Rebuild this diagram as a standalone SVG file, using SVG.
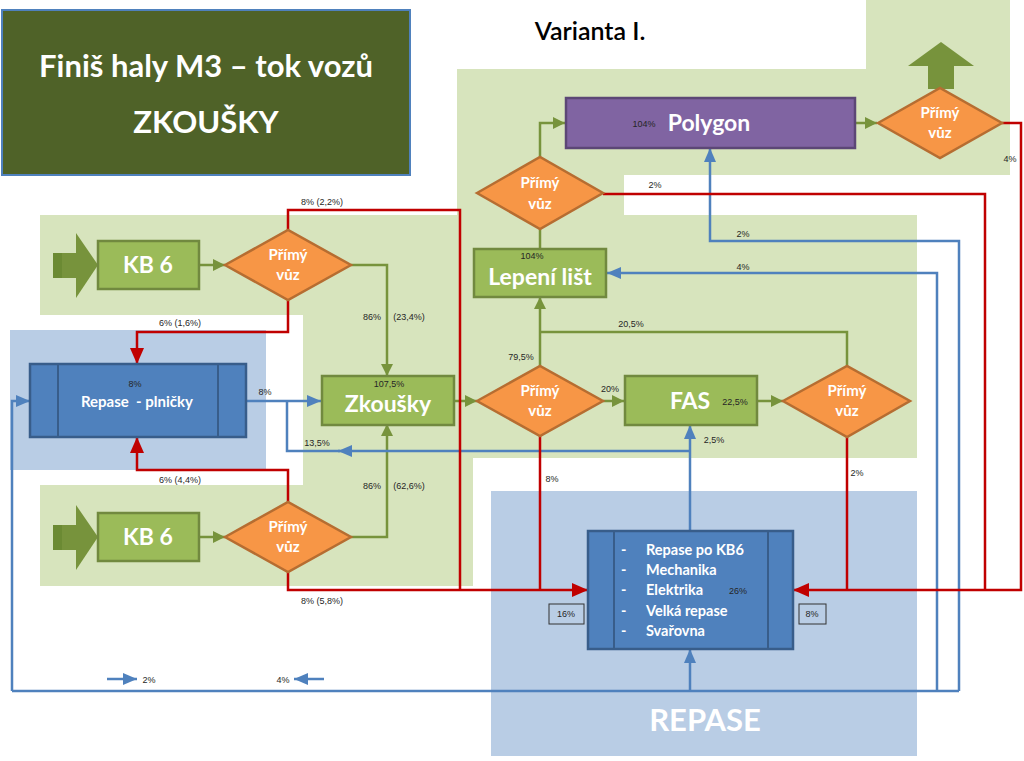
<svg xmlns="http://www.w3.org/2000/svg" width="1024" height="761" viewBox="0 0 1024 761">
<style>
.bg-g{fill:#d7e4bd}
.bg-b{fill:#b9cde5}
.gnode{fill:#9bbb59;stroke:#71893f;stroke-width:2.5}
.dia{fill:#f79646;stroke:#b66d31;stroke-width:2.5}
.bnode{fill:#4f81bd;stroke:#385d8a;stroke-width:2.5}
.pnode{fill:#8064a2;stroke:#5c4776;stroke-width:2.5}
.big{font-family:Lato,"Open Sans",sans-serif;font-weight:bold;fill:#fff;text-anchor:middle}
.dt{font-family:Lato,"Open Sans",sans-serif;font-weight:bold;fill:#fff;text-anchor:middle;font-size:15px}
.lbl{font-family:"Liberation Sans",Arial,sans-serif;font-size:9px;fill:#262626;text-anchor:middle}
.gl{fill:none;stroke:#77933c;stroke-width:2.5}
.rl{fill:none;stroke:#c00000;stroke-width:2.5}
.bl{fill:none;stroke:#4f81bd;stroke-width:2.5}
.arr{fill:#77933c}
.arrd{fill:#6b8a33}
</style>
<defs>
<marker id="ag" markerWidth="12" markerHeight="12" refX="12" refY="6" orient="auto" markerUnits="userSpaceOnUse"><path d="M0,0 L12,6 L0,12 z" fill="#77933c"/></marker>
<marker id="ar" markerWidth="16" markerHeight="14" refX="16" refY="7" orient="auto" markerUnits="userSpaceOnUse"><path d="M0,0 L16,7 L0,14 z" fill="#c00000"/></marker>
<marker id="ab" markerWidth="14" markerHeight="12" refX="14" refY="6" orient="auto" markerUnits="userSpaceOnUse"><path d="M0,0 L14,6 L0,12 z" fill="#4f81bd"/></marker>
</defs>
<rect width="1024" height="761" fill="#fff"/>
<g id="backgrounds">
<rect class="bg-g" x="866" y="0" width="144" height="175"/>
<rect class="bg-g" x="457" y="69" width="553" height="106"/>
<rect class="bg-g" x="457" y="174" width="167" height="42"/>
<rect class="bg-g" x="40" y="215" width="877" height="100"/>
<rect class="bg-g" x="303" y="314" width="614" height="144"/>
<rect class="bg-g" x="303" y="457" width="170" height="29"/>
<rect class="bg-g" x="40" y="485" width="433" height="101"/>
<rect class="bg-b" x="10" y="330" width="256" height="140"/>
<rect class="bg-b" x="491" y="491" width="426" height="265"/>
<text class="big" x="705" y="731" font-size="31">REPASE</text>
</g>
<g id="title">
<rect x="2" y="10" width="408" height="165" fill="#4f6228" stroke="#4f81bd" stroke-width="2"/>
<text class="big" x="206" y="77" font-size="31">Finiš haly M3 – tok vozů</text>
<text class="big" x="206" y="133" font-size="31">ZKOUŠKY</text>
</g>
<text x="590" y="40" font-family="Lato,'Open Sans',sans-serif" font-size="25" font-weight="600" fill="#000" text-anchor="middle">Varianta I.</text>
<g id="connectors">
<path class="gl" d="M199,265 H225" marker-end="url(#ag)"/>
<path class="gl" d="M351,265 H387 V376" marker-end="url(#ag)"/>
<path class="gl" d="M199,537 H225" marker-end="url(#ag)"/>
<path class="gl" d="M351,537 H387 V424" marker-end="url(#ag)"/>
<path class="gl" d="M454,401 H477" marker-end="url(#ag)"/>
<path class="gl" d="M540,366 V297" marker-end="url(#ag)"/>
<path class="gl" d="M847,366 V332 H540"/>
<path class="gl" d="M540,249 V229"/>
<path class="gl" d="M540,157 V123 H565" marker-end="url(#ag)"/>
<path class="gl" d="M856,123 H877" marker-end="url(#ag)"/>
<path class="gl" d="M603,401 H624" marker-end="url(#ag)"/>
<path class="gl" d="M757,401 H783" marker-end="url(#ag)"/>

<path class="bl" d="M246,401 H321" marker-end="url(#ab)"/>
<path class="bl" d="M690,531 V425" marker-end="url(#ab)"/>
<path class="bl" d="M690,451 H338" marker-end="url(#ab)"/>
<path class="bl" d="M340,451 H287 V401"/>
<path class="bl" d="M12,691 V401 H30" marker-end="url(#ab)"/>
<path class="bl" d="M12,691 H959"/>
<path class="bl" d="M937,691 V273 H607" marker-end="url(#ab)"/>
<path class="bl" d="M959,691 V241 H710 V148" marker-end="url(#ab)"/>
<path class="bl" d="M690,691 V649" marker-end="url(#ab)"/>
<path class="bl" d="M107,679 H137" marker-end="url(#ab)"/>
<path class="bl" d="M324,679 H294" marker-end="url(#ab)"/>

<path class="rl" d="M288,230 V210 H460 V590"/>
<path class="rl" d="M288,300 V332 H137 V364" marker-end="url(#ar)"/>
<path class="rl" d="M288,502 V470 H137 V437" marker-end="url(#ar)"/>
<path class="rl" d="M288,572 V590 H588" marker-end="url(#ar)"/>
<path class="rl" d="M540,436 V590"/>
<path class="rl" d="M603,194 H985 V590"/>
<path class="rl" d="M1002,123 H1021 V590 H793" marker-end="url(#ar)"/>
<path class="rl" d="M847,437 V590"/>
</g>
<g id="labels">
<text class="lbl" x="322" y="205">8% (2,2%)</text>
<text class="lbl" x="180" y="326">6% (1,6%)</text>
<text class="lbl" x="372" y="320">86%</text>
<text class="lbl" x="409" y="320">(23,4%)</text>
<text class="lbl" x="265" y="395">8%</text>
<text class="lbl" x="317" y="446">13,5%</text>
<text class="lbl" x="180" y="483">6% (4,4%)</text>
<text class="lbl" x="372" y="489">86%</text>
<text class="lbl" x="409" y="489">(62,6%)</text>
<text class="lbl" x="322" y="604">8% (5,8%)</text>
<text class="lbl" x="149" y="683">2%</text>
<text class="lbl" x="283" y="683">4%</text>
<text class="lbl" x="655" y="188">2%</text>
<text class="lbl" x="743" y="237">2%</text>
<text class="lbl" x="743" y="270">4%</text>
<text class="lbl" x="631" y="327">20,5%</text>
<text class="lbl" x="521" y="360">79,5%</text>
<text class="lbl" x="610" y="392">20%</text>
<text class="lbl" x="714" y="443">2,5%</text>
<text class="lbl" x="552" y="482">8%</text>
<text class="lbl" x="857" y="476">2%</text>
<text class="lbl" x="1010" y="162">4%</text>
</g>
<g id="in-arrow-1">
<rect class="arr" x="53" y="253" width="24" height="25"/>
<rect class="arrd" x="53" y="253" width="9" height="25"/>
<path class="arr" d="M76,233 L98,265 L76,298 z"/>
</g>
<g id="in-arrow-2">
<rect class="arr" x="53" y="525" width="24" height="25"/>
<rect class="arrd" x="53" y="525" width="9" height="25"/>
<path class="arr" d="M76,505 L98,537 L76,570 z"/>
</g>
<g id="out-arrow">
<rect class="arr" x="928" y="65" width="26" height="24"/>
<path class="arr" d="M908,66 L941,42 L974,66 z"/>
</g>
<g id="kb6-top">
<rect class="gnode" x="98" y="241" width="101" height="48"/>
<text class="big" x="148" y="273" font-size="23">KB 6</text>
</g>
<g id="dia-top">
<path class="dia" d="M225,265 L288,230 L351,265 L288,300 z"/>
<text class="dt" x="288" y="260">Přímý</text>
<text class="dt" x="288" y="280">vůz</text>
</g>
<g id="kb6-bottom">
<rect class="gnode" x="98" y="513" width="101" height="48"/>
<text class="big" x="148" y="545" font-size="23">KB 6</text>
</g>
<g id="dia-bottom">
<path class="dia" d="M225,537 L288,502 L351,537 L288,572 z"/>
<text class="dt" x="288" y="532">Přímý</text>
<text class="dt" x="288" y="552">vůz</text>
</g>
<g id="repase-plnicky">
<rect class="bnode" x="30" y="364" width="216" height="73"/>
<line x1="58" y1="364" x2="58" y2="437" stroke="#385d8a" stroke-width="2"/>
<line x1="218" y1="364" x2="218" y2="437" stroke="#385d8a" stroke-width="2"/>
<text class="lbl" x="135" y="387" fill="#1f1f3a">8%</text>
<text class="dt" x="137" y="407" style="white-space:pre">Repase  - plničky</text>
</g>
<g id="zkousky">
<rect class="gnode" x="322" y="376" width="132" height="49"/>
<text class="lbl" x="389" y="387">107,5%</text>
<text class="big" x="388" y="412" font-size="23">Zkoušky</text>
</g>
<g id="dia-mid">
<path class="dia" d="M477,401 L540,366 L603,401 L540,436 z"/>
<text class="dt" x="540" y="396">Přímý</text>
<text class="dt" x="540" y="416">vůz</text>
</g>
<g id="fas">
<rect class="gnode" x="625" y="376" width="132" height="49"/>
<text class="big" x="690" y="409" font-size="23">FAS</text>
<text class="lbl" x="735" y="405">22,5%</text>
</g>
<g id="dia-right">
<path class="dia" d="M783,401 L847,366 L910,401 L847,437 z"/>
<text class="dt" x="847" y="396">Přímý</text>
<text class="dt" x="847" y="416">vůz</text>
</g>
<g id="lepeni">
<rect class="gnode" x="474" y="249" width="132" height="48"/>
<text class="lbl" x="532" y="259">104%</text>
<text class="big" x="540" y="285" font-size="23">Lepení lišt</text>
</g>
<g id="dia-upper">
<path class="dia" d="M477,193 L540,157 L603,193 L540,229 z"/>
<text class="dt" x="540" y="188">Přímý</text>
<text class="dt" x="540" y="209">vůz</text>
</g>
<g id="polygon">
<rect class="pnode" x="566" y="98" width="289" height="50"/>
<text class="lbl" x="644" y="127">104%</text>
<text class="big" x="709" y="131" font-size="23">Polygon</text>
</g>
<g id="dia-polygon">
<path class="dia" d="M878,123 L940,88 L1002,123 L940,158 z"/>
<text class="dt" x="940" y="118">Přímý</text>
<text class="dt" x="940" y="138">vůz</text>
</g>
<g id="repase-big">
<rect class="bnode" x="588" y="531" width="205" height="118"/>
<line x1="614" y1="531" x2="614" y2="649" stroke="#385d8a" stroke-width="2"/>
<line x1="768" y1="531" x2="768" y2="649" stroke="#385d8a" stroke-width="2"/>
<g font-family="Lato,'Open Sans',sans-serif" font-weight="bold" font-size="14.5" fill="#fff">
<text x="621" y="555">-</text><text x="646" y="555">Repase po KB6</text>
<text x="621" y="575">-</text><text x="646" y="575">Mechanika</text>
<text x="621" y="595">-</text><text x="646" y="595">Elektrika</text>
<text x="621" y="616">-</text><text x="646" y="616">Velká repase</text>
<text x="621" y="636">-</text><text x="646" y="636">Svařovna</text>
</g>
<text class="lbl" x="738" y="594" fill="#1f1f3a">26%</text>
</g>
<g id="box-16">
<rect x="549" y="604" width="35" height="20" fill="#b9cde5" stroke="#333" stroke-width="1"/>
<text class="lbl" x="566" y="617">16%</text>
</g>
<g id="box-8">
<rect x="799" y="604" width="27" height="20" fill="#b9cde5" stroke="#333" stroke-width="1"/>
<text class="lbl" x="812" y="617">8%</text>
</g>
</svg>
